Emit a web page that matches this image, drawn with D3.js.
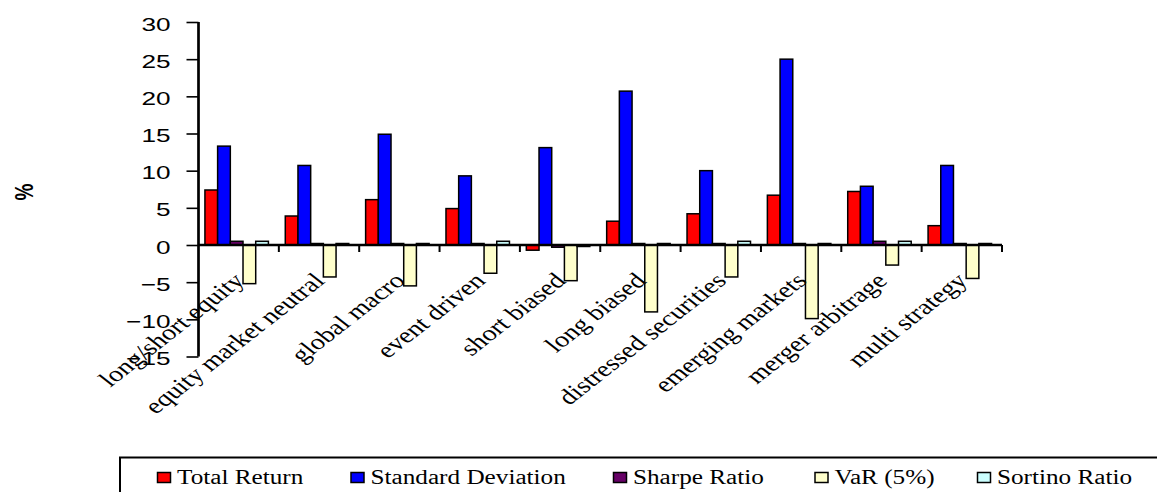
<!DOCTYPE html>
<html>
<head>
<meta charset="utf-8">
<script src="https://cdn.jsdelivr.net/npm/d3@7"></script>
<style>
  html, body { margin: 0; padding: 0; background: #ffffff; }
  svg { display: block; }
  .serif { font-family: "Liberation Serif", "Times New Roman", serif; }
  .sans { font-family: "Liberation Sans", Arial, sans-serif; }
</style>
</head>
<body>
<svg id="chart" width="1157" height="492"></svg>
<script>
// ---- data ----
const categories = ["long/short equity", "equity market neutral", "global macro", "event driven",
  "short biased", "long biased", "distressed securities", "emerging markets", "merger arbitrage", "multi strategy"];
const seriesNames = ["Total Return", "Standard Deviation", "Sharpe Ratio", "VaR (5%)", "Sortino Ratio"];
const totalReturn = [7.4, 3.9, 6.1, 4.9, -0.7, 3.2, 4.2, 6.7, 7.2, 2.6];
const stdDeviation = [13.3, 10.7, 14.9, 9.3, 13.1, 20.7, 10.0, 25.0, 7.9, 10.7];
const sharpeRatio = [0.5, 0.2, 0.2, 0.2, -0.3, 0.2, 0.2, 0.2, 0.5, 0.2];
const var5 = [-5.2, -4.3, -5.5, -3.8, -4.8, -9.0, -4.3, -9.9, -2.7, -4.5];
const sortinoRatio = [0.5, 0.2, 0.2, 0.5, -0.2, 0.2, 0.5, 0.2, 0.5, 0.2];
const yTicks = [-15, -10, -5, 0, 5, 10, 15, 20, 25, 30];
const seriesColors = ["#ff0000", "#0000ff", "#660066", "#ffffcc", "#ccffff"];

const seriesValues = [totalReturn, stdDeviation, sharpeRatio, var5, sortinoRatio];

// ---- layout ----
const svg = d3.select("#chart");
const axisX = 198.5, axisRight = 1002;
const yTop = 22, yBottom = 356.5;
const stretch = 1.28;       // horizontal stretch of category labels
const tickStretch = 1.4;    // horizontal stretch of y tick labels
const legendStretch = 1.23;
const legendSlots = [157.5, 351, 613.5, 815, 977.5]; // legend entry left edges

const y = d3.scaleLinear().domain([-15, 30]).range([yBottom, yTop]);
const x0 = d3.scaleBand().domain(categories).range([axisX, axisRight]).padding(0);
const step = x0.step();
const x1 = d3.scaleBand().domain(seriesNames).range([step * 0.08, step * 0.87]).padding(0);

// bars
const groups = svg.append("g").selectAll("g")
  .data(categories)
  .join("g")
  .attr("transform", d => `translate(${x0(d)},0)`);

groups.selectAll("rect")
  .data((c, i) => seriesNames.map((s, k) => ({ s, k, v: seriesValues[k][i] })))
  .join("rect")
  .attr("x", d => x1(d.s))
  .attr("width", x1.bandwidth())
  .attr("y", d => y(Math.max(0, d.v)))
  .attr("height", d => Math.abs(y(d.v) - y(0)))
  .attr("fill", d => seriesColors[d.k])
  .attr("stroke", "#000")
  .attr("stroke-width", 1.5);

// y axis
const yAxis = d3.axisLeft(y).tickValues(yTicks).tickSize(12).tickFormat(d3.format("d"));
const gy = svg.append("g").attr("transform", `translate(${axisX},0)`).call(yAxis);
gy.attr("font-family", null).attr("font-size", null);
gy.select(".domain").attr("stroke", "#000").attr("stroke-width", 2.7)
  .attr("d", `M0,${y(30)}V${y(-15)}`);
gy.selectAll(".tick line").attr("stroke", "#000").attr("stroke-width", 1.6);
gy.selectAll(".tick text")
  .attr("x", null).attr("dy", null)
  .attr("class", "sans")
  .attr("text-anchor", "end")
  .attr("transform", `translate(-28,8) scale(${tickStretch},1)`)
  .attr("font-family", "Liberation Sans, Arial, sans-serif")
  .attr("font-size", "18.7px")
  .attr("fill", "#000");

// x axis at zero
const zeroY = y(0);
svg.append("line")
  .attr("x1", axisX).attr("x2", axisRight)
  .attr("y1", zeroY).attr("y2", zeroY)
  .attr("stroke", "#000").attr("stroke-width", 2.7);
svg.append("g").selectAll("line")
  .data(categories)
  .join("line")
  .attr("x1", d => x0(d) + step).attr("x2", d => x0(d) + step)
  .attr("y1", zeroY).attr("y2", zeroY + 7)
  .attr("stroke", "#000").attr("stroke-width", 2);

// category labels
svg.append("g").selectAll("text")
  .data(categories)
  .join("text")
  .attr("class", "serif")
  .attr("text-anchor", "end")
  .attr("transform", d => `translate(${x0(d) + step / 2 + 7},${zeroY + 37}) scale(${stretch},1) rotate(-45)`)
  .attr("font-family", "Liberation Serif, Times New Roman, serif")
  .attr("font-size", "22px")
  .attr("fill", "#000")
  .text(d => d);

// y axis title
svg.append("text")
  .attr("class", "sans")
  .attr("transform", `translate(24,192) scale(${tickStretch},1) rotate(-90)`)
  .attr("text-anchor", "middle")
  .attr("dominant-baseline", "central")
  .attr("font-family", "Liberation Sans, Arial, sans-serif")
  .attr("font-size", "19px")
  .attr("font-weight", "bold")
  .attr("fill", "#000")
  .text("%");

// legend
svg.append("rect")
  .attr("x", 120).attr("y", 457.5)
  .attr("width", 1100).attr("height", 80)
  .attr("fill", "none").attr("stroke", "#000").attr("stroke-width", 2);

const legend = svg.append("g").selectAll("g")
  .data(seriesNames)
  .join("g")
  .attr("transform", (d, k) => `translate(${legendSlots[k]},0)`);
legend.append("rect")
  .attr("x", 0).attr("y", 472.5).attr("width", 13).attr("height", 10)
  .attr("fill", (d, k) => seriesColors[k]).attr("stroke", "#000").attr("stroke-width", 1.5);
legend.append("text")
  .attr("class", "serif")
  .attr("transform", `translate(19.5,484) scale(${legendStretch},1)`)
  .attr("font-family", "Liberation Serif, Times New Roman, serif")
  .attr("font-size", "20.5px")
  .attr("fill", "#000")
  .text(d => d);
</script>
</body>
</html>
